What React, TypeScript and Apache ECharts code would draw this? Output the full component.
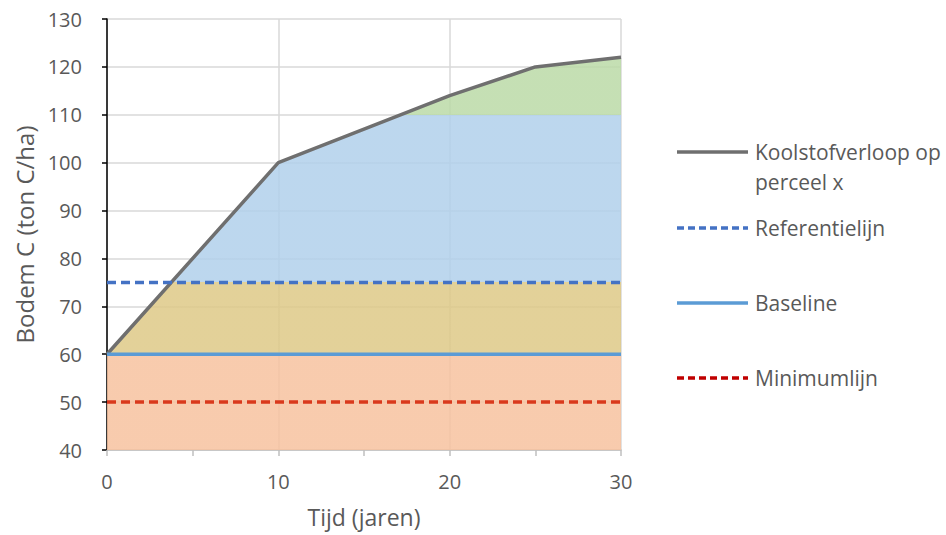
import React, { useEffect, useRef } from "react";
import * as echarts from "echarts";

const years = [0, 10, 20, 25, 30];
const carbon = [60, 100, 114, 120, 122];
const xRange = [0, 30];
const referentie = [75, 75];
const baseline = [60, 60];
const minimum = [50, 50];
const bandLimits = [40, 60, 75, 110, 130];
const bandColors = ["#F7C29F", "#DEC987", "#B1D0EB", "#BBDAA7"];
const legendNames = ["Koolstofverloop op\nperceel x", "Referentielijn", "Baseline", "Minimumlijn"];

const FONT = "'Open Sans', 'Noto Sans', sans-serif";
const TXT = "#595959";

export default function App() {
  const ref = useRef<HTMLDivElement>(null);
  useEffect(() => {
    if (!ref.current) return;
    const chart = echarts.init(ref.current, undefined, { renderer: "svg" });
    const pieces = bandColors.map((c, i) => ({
      gte: bandLimits[i],
      lt: bandLimits[i + 1],
      color: c,
    }));
    const legendY = [152, 228, 303, 378];
    const legendLines = [
      { color: "#6F6F6F", dash: null },
      { color: "#4472C4", dash: [7, 4] },
      { color: "#5B9BD5", dash: null },
      { color: "#C00000", dash: [7, 4] },
    ];
    const graphic: any[] = [];
    legendLines.forEach((l, i) => {
      graphic.push({
        type: "line",
        shape: { x1: 677, y1: legendY[i], x2: 748, y2: legendY[i] },
        style: { stroke: l.color, lineWidth: 3.5, lineDash: l.dash || undefined },
      });
      graphic.push({
        type: "text",
        x: 755,
        y: legendY[i] - 15,
        style: {
          text: legendNames[i],
          fill: TXT,
          font: `21px ${FONT}`,
          lineHeight: 30,
          verticalAlign: "top",
        },
      });
    });
    chart.setOption({
      animation: false,
      textStyle: { fontFamily: FONT },
      grid: { left: 107, right: 325, top: 19, bottom: 85, containLabel: false, outerBoundsMode: "none" },
      visualMap: {
        show: false,
        type: "piecewise",
        dimension: 1,
        seriesIndex: 0,
        pieces,
      },
      xAxis: {
        type: "value",
        min: 0,
        max: 30,
        interval: 10,
        name: "Tijd (jaren)",
        nameLocation: "middle",
        nameGap: 55,
        nameTextStyle: { color: TXT, fontSize: 23, fontFamily: FONT },
        axisLine: { lineStyle: { color: "#BFBFBF", width: 1.5 } },
        axisTick: { show: true, length: 6, lineStyle: { color: "#BFBFBF", width: 1.5 } },
        minorTick: { show: true, splitNumber: 2, length: 6, lineStyle: { color: "#BFBFBF", width: 1.5 } },
        axisLabel: { color: TXT, fontSize: 20, margin: 21, fontFamily: FONT },
        splitLine: { show: true, lineStyle: { color: "#D9D9D9", width: 1.5 } },
      },
      yAxis: {
        type: "value",
        min: 40,
        max: 130,
        interval: 10,
        name: "Bodem C (ton C/ha)",
        nameLocation: "middle",
        nameGap: 70,
        nameTextStyle: { color: TXT, fontSize: 24, fontFamily: FONT },
        axisLine: { show: true, lineStyle: { color: "#000000", width: 1.5 } },
        axisTick: { show: true, length: 5, lineStyle: { color: "#000000", width: 1.5 } },
        axisLabel: { color: TXT, fontSize: 20, margin: 25, fontFamily: FONT },
        splitLine: { show: true, lineStyle: { color: "#D9D9D9", width: 1.5 } },
      },
      series: [
        {
          name: "Koolstofverloop op perceel x",
          type: "line",
          data: years.map((y, i) => [y, carbon[i]]),
          showSymbol: false,
          lineStyle: { color: "#6F6F6F", width: 3.5 },
          areaStyle: { opacity: 0.85, origin: "start" },
          z: 2,
        },
        {
          name: "Referentielijn",
          type: "line",
          data: xRange.map((x, i) => [x, referentie[i]]),
          showSymbol: false,
          lineStyle: { color: "#4472C4", width: 3.5, type: [9, 5] },
          z: 3,
        },
        {
          name: "Baseline",
          type: "line",
          data: xRange.map((x, i) => [x, baseline[i]]),
          showSymbol: false,
          lineStyle: { color: "#5B9BD5", width: 3.5 },
          z: 3,
        },
        {
          name: "Minimumlijn",
          type: "line",
          data: xRange.map((x, i) => [x, minimum[i]]),
          showSymbol: false,
          lineStyle: { color: "#D9391C", width: 3.5, type: [9, 5] },
          z: 3,
        },
      ],
      graphic,
    });
    return () => chart.dispose();
  }, []);
  return <div ref={ref} style={{ width: 946, height: 535, position: "absolute", left: 0, top: 0 }} />;
}
